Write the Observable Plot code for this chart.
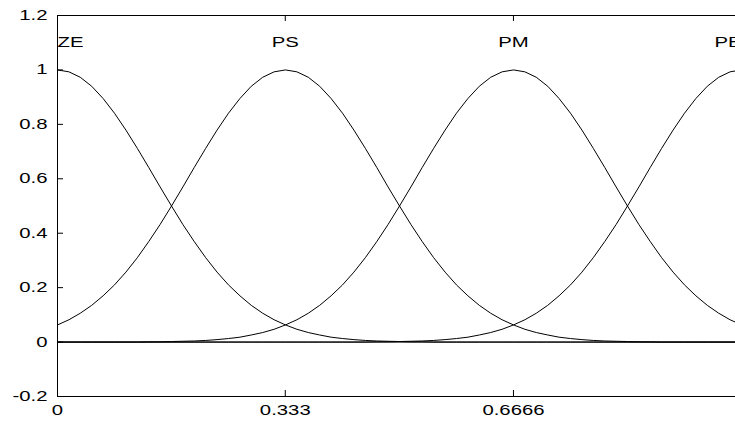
<!DOCTYPE html>
<html>
<head>
<meta charset="utf-8">
<script src="https://cdn.jsdelivr.net/npm/d3@7"></script>
<script src="https://cdn.jsdelivr.net/npm/@observablehq/plot@0.6"></script>
<style>
  html, body { margin: 0; padding: 0; background: white; overflow: hidden; }
  svg { display: block; }
</style>
</head>
<body>
<script>
// sample positions on the universe of discourse
const xs = [0, 0.0167, 0.0333, 0.05, 0.0667, 0.0833, 0.1, 0.1167, 0.1333, 0.15,
  0.1667, 0.1833, 0.2, 0.2167, 0.2333, 0.25, 0.2667, 0.2833, 0.3, 0.3167,
  0.3333, 0.35, 0.3667, 0.3833, 0.4, 0.4167, 0.4333, 0.45, 0.4667, 0.4833,
  0.5, 0.5167, 0.5333, 0.55, 0.5667, 0.5833, 0.6, 0.6167, 0.6333, 0.65,
  0.6667, 0.6833, 0.7, 0.7167, 0.7333, 0.75, 0.7667, 0.7833, 0.8, 0.8167,
  0.8333, 0.85, 0.8667, 0.8833, 0.9, 0.9167, 0.9333, 0.95, 0.9667, 0.9833,
  1];

const ZE = [1, 0.993, 0.973, 0.94, 0.895, 0.841, 0.779, 0.712, 0.642, 0.57,
  0.5, 0.432, 0.369, 0.31, 0.257, 0.21, 0.17, 0.135, 0.106, 0.082,
  0.063, 0.047, 0.035, 0.026, 0.018, 0.013, 0.009, 0.006, 0.004, 0.003,
  0.002, 0.001, 0.001, 0, 0, 0, 0, 0, 0, 0,
  0, 0, 0, 0, 0, 0, 0, 0, 0, 0,
  0, 0, 0, 0, 0, 0, 0, 0, 0, 0,
  0];

const PS = [0.063, 0.082, 0.106, 0.135, 0.17, 0.21, 0.257, 0.31, 0.369, 0.432,
  0.5, 0.57, 0.642, 0.712, 0.779, 0.841, 0.895, 0.94, 0.973, 0.993,
  1, 0.993, 0.973, 0.94, 0.895, 0.841, 0.779, 0.712, 0.642, 0.57,
  0.5, 0.432, 0.369, 0.31, 0.257, 0.21, 0.17, 0.135, 0.106, 0.082,
  0.063, 0.047, 0.035, 0.026, 0.018, 0.013, 0.009, 0.006, 0.004, 0.003,
  0.002, 0.001, 0.001, 0, 0, 0, 0, 0, 0, 0,
  0];

const PM = [0, 0, 0, 0, 0, 0, 0, 0, 0.001, 0.001,
  0.002, 0.003, 0.004, 0.006, 0.009, 0.013, 0.018, 0.026, 0.035, 0.047,
  0.063, 0.082, 0.106, 0.135, 0.17, 0.21, 0.257, 0.31, 0.369, 0.432,
  0.5, 0.57, 0.642, 0.712, 0.779, 0.841, 0.895, 0.94, 0.973, 0.993,
  1, 0.993, 0.973, 0.94, 0.895, 0.841, 0.779, 0.712, 0.642, 0.57,
  0.5, 0.432, 0.369, 0.31, 0.257, 0.21, 0.17, 0.135, 0.106, 0.082,
  0.063];

const PB = [0, 0, 0, 0, 0, 0, 0, 0, 0, 0,
  0, 0, 0, 0, 0, 0, 0, 0, 0, 0,
  0, 0, 0, 0, 0, 0, 0, 0, 0.001, 0.001,
  0.002, 0.003, 0.004, 0.006, 0.009, 0.013, 0.018, 0.026, 0.035, 0.047,
  0.063, 0.082, 0.106, 0.135, 0.17, 0.21, 0.257, 0.31, 0.369, 0.432,
  0.5, 0.57, 0.642, 0.712, 0.779, 0.841, 0.895, 0.94, 0.973, 0.993,
  1];

const seriesNames = ["ZE", "PS", "PM", "PB"];
const seriesValues = [ZE, PS, PM, PB];
const labelX = [0, 0.333, 0.6666, 1];
const labelY = 1.1;

const xTicks = [0, 0.333, 0.6666];
const xTickLabels = ["0", "0.333", "0.6666"];
const yTicks = [-0.2, 0, 0.2, 0.4, 0.6, 0.8, 1, 1.2];
const yTickLabels = ["-0.2", "0", "0.2", "0.4", "0.6", "0.8", "1", "1.2"];

const rows = [];
seriesNames.forEach((name, s) => {
  xs.forEach((x, i) => rows.push({series: name, x, y: seriesValues[s][i]}));
});
const labels = seriesNames.map((name, i) => ({name, x: labelX[i], y: labelY}));

const W = 735, H = 422;
const mL = 57, mR = -6, mT = 15, mB = 26;
const frameW = W - mL - mR, frameH = H - mT - mB;
const tickLen = 6;

const chart = Plot.plot({
  width: W,
  height: H,
  marginLeft: mL,
  marginRight: mR,
  marginTop: mT,
  marginBottom: mB,
  x: {domain: [0, 1]},
  y: {domain: [-0.2, 1.2]},
  style: {
    fontFamily: "'Liberation Sans', Arial, Helvetica, sans-serif",
    fontSize: "14px",
    color: "black",
    background: "white",
    overflow: "hidden"
  },
  marks: [
    Plot.ruleY([0], {stroke: "black", strokeWidth: 1}),
    Plot.line(rows, {x: "x", y: "y", z: "series", stroke: "black", strokeWidth: 1}),
    Plot.frame({stroke: "black", strokeWidth: 1}),
    // inward ticks on all four sides
    Plot.tickY(yTicks, {y: d => d, insetRight: frameW - tickLen, stroke: "black"}),
    Plot.tickY(yTicks, {y: d => d, insetLeft: frameW - tickLen, stroke: "black"}),
    Plot.tickX(xTicks, {x: d => d, insetTop: frameH - tickLen, stroke: "black"}),
    Plot.tickX(xTicks, {x: d => d, insetBottom: frameH - tickLen, stroke: "black"}),
    Plot.axisY({ticks: yTicks, tickSize: 0, tickPadding: 10, label: null,
      tickFormat: d => yTickLabels[yTicks.indexOf(d)]}),
    Plot.axisX({ticks: xTicks, tickSize: 0, tickPadding: 9, label: null,
      tickFormat: d => xTickLabels[xTicks.indexOf(d)]}),
    Plot.text(labels.filter(d => d.name === "ZE"), {x: "x", y: "y", text: "name", textAnchor: "start", fill: "black"}),
    Plot.text(labels.filter(d => d.name === "PS" || d.name === "PM"), {x: "x", y: "y", text: "name", textAnchor: "middle", fill: "black"}),
    Plot.text(labels.filter(d => d.name === "PB"), {x: "x", y: "y", text: "name", textAnchor: "end", fill: "black"})
  ]
});

document.body.append(chart);

// the reference's lettering is horizontally stretched: stretch each text
// around its own anchor, re-anchoring at the start so the stretch is explicit
const STRETCH = 1.45;
chart.querySelectorAll("text").forEach(t => {
  const L = t.getComputedTextLength();
  if (!(L > 0)) return;
  const anchor = getComputedStyle(t).textAnchor;
  const S = L * STRETCH;
  const shift = anchor === "end" ? -S : anchor === "middle" ? -S / 2 : 0;
  t.setAttribute("text-anchor", "start");
  t.style.textAnchor = "start";
  const prevDx = parseFloat(t.getAttribute("dx")) || 0;
  t.setAttribute("dx", (prevDx + shift).toFixed(2));
  t.setAttribute("textLength", S.toFixed(2));
  t.setAttribute("lengthAdjust", "spacingAndGlyphs");
});
</script>
</body>
</html>
